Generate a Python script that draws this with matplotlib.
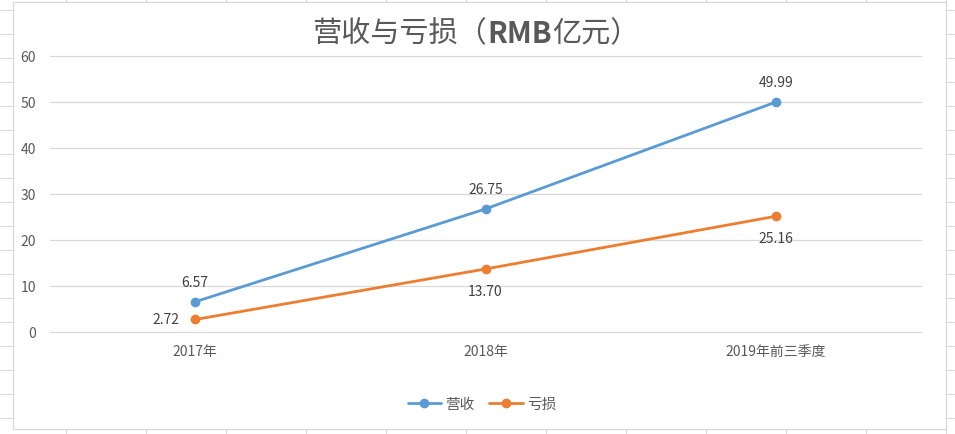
import numpy as np
import matplotlib.pyplot as plt
from matplotlib.lines import Line2D
from matplotlib.patches import Rectangle
from matplotlib.transforms import offset_copy

plt.rcParams['font.family'] = ['Noto Sans CJK SC', 'DejaVu Sans']

categories = ["2017年", "2018年", "2019年前三季度"]
revenue = [6.57, 26.75, 49.99]
loss = [2.72, 13.70, 25.16]
y_ticks = [0, 10, 20, 30, 40, 50, 60]

W, H = 955, 435
fig = plt.figure(figsize=(W / 100, H / 100), dpi=100)
fig.patch.set_facecolor("white")

# spreadsheet cells behind the chart
grid_c = "#dadada"
for gx in range(66, W, 80):
    fig.add_artist(Line2D([gx / W, gx / W], [0, 1], color=grid_c, lw=0.75, zorder=0))
for gy in range(11, H, 24):
    fig.add_artist(Line2D([0, 1], [1 - gy / H, 1 - gy / H], color=grid_c, lw=0.75, zorder=0))

# chart area
fig.add_artist(Rectangle((12.5 / W, 1 - 430 / H), (946 - 12.5) / W, (430 - 2.5) / H,
                         facecolor="white", edgecolor="#d9d9d9", lw=0.9, zorder=1))

ax = fig.add_axes([50 / W, 102 / H, 871 / W, 276 / H], zorder=2)
ax.patch.set_alpha(0)
x = np.arange(len(categories))
blue, orange = "#5B9BD5", "#ED7D31"
ax.plot(x, revenue, color=blue, lw=2.0, marker="o", markersize=6, label="营收",
        solid_capstyle="round", zorder=3)
ax.plot(x, loss, color=orange, lw=2.0, marker="o", markersize=6, label="亏损",
        solid_capstyle="round", zorder=3)

ax.set_xlim(-0.5, 2.5)
ax.set_ylim(0, 60)
ax.set_yticks(y_ticks)
ax.set_xticks(x)
ax.set_xticklabels(categories)
ax.tick_params(length=0, labelsize=10, labelcolor="#595959")
ax.tick_params(axis="y", pad=10)
ax.tick_params(axis="x", pad=9)
for s in ax.spines.values():
    s.set_visible(False)
ax.yaxis.grid(True, color="#d9d9d9", lw=0.9)
for gl in ax.get_ygridlines():
    gl.set_clip_on(False)
ax.set_axisbelow(True)

lab_c = "#404040"
for i, v in enumerate(revenue):
    ax.annotate(f"{v:.2f}", (x[i], v), xytext=(0, 14.5), textcoords="offset points",
                ha="center", va="center", fontsize=10, color=lab_c)
for i, v in enumerate(loss):
    if i == 0:
        ax.annotate(f"{v:.2f}", (x[i], v), xytext=(-21, 0), textcoords="offset points",
                    ha="center", va="center", fontsize=10, color=lab_c)
    else:
        ax.annotate(f"{v:.2f}", (x[i], v), xytext=(0, -15.5), textcoords="offset points",
                    ha="center", va="center", fontsize=10, color=lab_c)

# title with bold RMB, pieces laid out left to right
title_parts = [("营收与亏损（", "normal"), ("RMB", "bold"), ("亿元）", "normal")]
renderer = fig.canvas.get_renderer()
pieces = []
total = 0
for s, wt in title_parts:
    t = fig.text(0, 1 - 34 / H, s, ha="left", va="center", fontsize=21,
                 color="#595959", fontweight=wt, zorder=3)
    w = t.get_window_extent(renderer).width
    pieces.append((t, w))
    total += w
x0 = 476 - total / 2
for t, w in pieces:
    t.set_x(x0 / W)
    x0 += w

fig.legend(loc="center", bbox_to_anchor=(482 / W, 1 - 405 / H), ncol=2, frameon=False,
           fontsize=10.5, labelcolor="#595959", handlelength=2.3, columnspacing=1.0,
           handletextpad=0.3)

fig.savefig("out.png", dpi=100)
